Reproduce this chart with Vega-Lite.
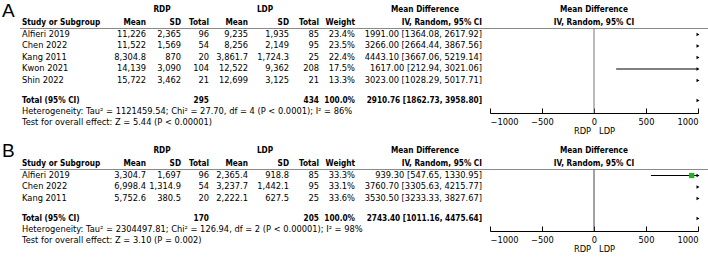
{
  "$schema": "https://vega.github.io/schema/vega-lite/v6.json",
  "padding": 0,
  "spacing": 0,
  "bounds": "flush",
  "config": {"view": {"stroke": null}, "font": "DejaVu Sans"},
  "datasets": {
    "cellsA": [
      {"row": 0, "col": -2, "text": "A", "part": "panel"},
      {"row": 0, "col": 2, "text": "RDP", "part": "header"},
      {"row": 0, "col": 6, "text": "LDP", "part": "header"},
      {"row": 0, "col": 10, "text": "Mean Difference", "part": "header"},
      {"row": 0, "text": "Mean Difference", "part": "plothead"},
      {"row": 1, "col": 0, "text": "Study or Subgroup", "part": "header"},
      {"row": 1, "col": 1, "text": "Mean", "part": "header"},
      {"row": 1, "col": 3, "text": "SD", "part": "header"},
      {"row": 1, "col": 4, "text": "Total", "part": "header"},
      {"row": 1, "col": 5, "text": "Mean", "part": "header"},
      {"row": 1, "col": 7, "text": "SD", "part": "header"},
      {"row": 1, "col": 8, "text": "Total", "part": "header"},
      {"row": 1, "col": 9, "text": "Weight", "part": "header"},
      {"row": 1, "col": 11, "text": "IV, Random, 95% CI", "part": "header"},
      {"row": 1, "text": "IV, Random, 95% CI", "part": "plothead"},
      {"row": 2, "col": 0, "text": "Alfieri 2019", "part": "study"},
      {"row": 2, "col": 1, "text": "11,226", "part": "study"},
      {"row": 2, "col": 3, "text": "2,365", "part": "study"},
      {"row": 2, "col": 4, "text": "96", "part": "study"},
      {"row": 2, "col": 5, "text": "9,235", "part": "study"},
      {"row": 2, "col": 7, "text": "1,935", "part": "study"},
      {"row": 2, "col": 8, "text": "85", "part": "study"},
      {"row": 2, "col": 9, "text": "23.4%", "part": "study"},
      {"row": 2, "col": 11, "text": "1991.00 [1364.08, 2617.92]", "part": "study"},
      {"row": 3, "col": 0, "text": "Chen 2022", "part": "study"},
      {"row": 3, "col": 1, "text": "11,522", "part": "study"},
      {"row": 3, "col": 3, "text": "1,569", "part": "study"},
      {"row": 3, "col": 4, "text": "54", "part": "study"},
      {"row": 3, "col": 5, "text": "8,256", "part": "study"},
      {"row": 3, "col": 7, "text": "2,149", "part": "study"},
      {"row": 3, "col": 8, "text": "95", "part": "study"},
      {"row": 3, "col": 9, "text": "23.5%", "part": "study"},
      {"row": 3, "col": 11, "text": "3266.00 [2664.44, 3867.56]", "part": "study"},
      {"row": 4, "col": 0, "text": "Kang 2011", "part": "study"},
      {"row": 4, "col": 1, "text": "8,304.8", "part": "study"},
      {"row": 4, "col": 3, "text": "870", "part": "study"},
      {"row": 4, "col": 4, "text": "20", "part": "study"},
      {"row": 4, "col": 5, "text": "3,861.7", "part": "study"},
      {"row": 4, "col": 7, "text": "1,724.3", "part": "study"},
      {"row": 4, "col": 8, "text": "25", "part": "study"},
      {"row": 4, "col": 9, "text": "22.4%", "part": "study"},
      {"row": 4, "col": 11, "text": "4443.10 [3667.06, 5219.14]", "part": "study"},
      {"row": 5, "col": 0, "text": "Kwon 2021", "part": "study"},
      {"row": 5, "col": 1, "text": "14,139", "part": "study"},
      {"row": 5, "col": 3, "text": "3,090", "part": "study"},
      {"row": 5, "col": 4, "text": "104", "part": "study"},
      {"row": 5, "col": 5, "text": "12,522", "part": "study"},
      {"row": 5, "col": 7, "text": "9,362", "part": "study"},
      {"row": 5, "col": 8, "text": "208", "part": "study"},
      {"row": 5, "col": 9, "text": "17.5%", "part": "study"},
      {"row": 5, "col": 11, "text": "1617.00 [212.94, 3021.06]", "part": "study"},
      {"row": 6, "col": 0, "text": "Shin 2022", "part": "study"},
      {"row": 6, "col": 1, "text": "15,722", "part": "study"},
      {"row": 6, "col": 3, "text": "3,462", "part": "study"},
      {"row": 6, "col": 4, "text": "21", "part": "study"},
      {"row": 6, "col": 5, "text": "12,699", "part": "study"},
      {"row": 6, "col": 7, "text": "3,125", "part": "study"},
      {"row": 6, "col": 8, "text": "21", "part": "study"},
      {"row": 6, "col": 9, "text": "13.3%", "part": "study"},
      {"row": 6, "col": 11, "text": "3023.00 [1028.29, 5017.71]", "part": "study"},
      {"row": 7, "col": 0, "text": "Total (95% CI)", "part": "total"},
      {"row": 7, "col": 4, "text": "295", "part": "total"},
      {"row": 7, "col": 8, "text": "434", "part": "total"},
      {"row": 7, "col": 9, "text": "100.0%", "part": "total"},
      {"row": 7, "col": 11, "text": "2910.76 [1862.73, 3958.80]", "part": "total"},
      {"row": 8, "col": 0, "text": "Heterogeneity: Tau² = 1121459.54; Chi² = 27.70, df = 4 (P < 0.0001); I² = 86%", "part": "note"},
      {"row": 9, "col": 0, "text": "Test for overall effect: Z = 5.44 (P < 0.00001)", "part": "note"}
    ],
    "forestA": [
      {"row": 2, "md": 1991.00, "lo": 1364.08, "hi": 2617.92, "weight": 23.4, "part": "study"},
      {"row": 3, "md": 3266.00, "lo": 2664.44, "hi": 3867.56, "weight": 23.5, "part": "study"},
      {"row": 4, "md": 4443.10, "lo": 3667.06, "hi": 5219.14, "weight": 22.4, "part": "study"},
      {"row": 5, "md": 1617.00, "lo": 212.94, "hi": 3021.06, "weight": 17.5, "part": "study"},
      {"row": 6, "md": 3023.00, "lo": 1028.29, "hi": 5017.71, "weight": 13.3, "part": "study"},
      {"row": 7, "md": 2910.76, "lo": 1862.73, "hi": 3958.80, "weight": 100.0, "part": "total"}
    ],
    "cellsB": [
      {"row": 0, "col": -2, "text": "B", "part": "panel"},
      {"row": 0, "col": 2, "text": "RDP", "part": "header"},
      {"row": 0, "col": 6, "text": "LDP", "part": "header"},
      {"row": 0, "col": 10, "text": "Mean Difference", "part": "header"},
      {"row": 0, "text": "Mean Difference", "part": "plothead"},
      {"row": 1, "col": 0, "text": "Study or Subgroup", "part": "header"},
      {"row": 1, "col": 1, "text": "Mean", "part": "header"},
      {"row": 1, "col": 3, "text": "SD", "part": "header"},
      {"row": 1, "col": 4, "text": "Total", "part": "header"},
      {"row": 1, "col": 5, "text": "Mean", "part": "header"},
      {"row": 1, "col": 7, "text": "SD", "part": "header"},
      {"row": 1, "col": 8, "text": "Total", "part": "header"},
      {"row": 1, "col": 9, "text": "Weight", "part": "header"},
      {"row": 1, "col": 11, "text": "IV, Random, 95% CI", "part": "header"},
      {"row": 1, "text": "IV, Random, 95% CI", "part": "plothead"},
      {"row": 2, "col": 0, "text": "Alfieri 2019", "part": "study"},
      {"row": 2, "col": 1, "text": "3,304.7", "part": "study"},
      {"row": 2, "col": 3, "text": "1,697", "part": "study"},
      {"row": 2, "col": 4, "text": "96", "part": "study"},
      {"row": 2, "col": 5, "text": "2,365.4", "part": "study"},
      {"row": 2, "col": 7, "text": "918.8", "part": "study"},
      {"row": 2, "col": 8, "text": "85", "part": "study"},
      {"row": 2, "col": 9, "text": "33.3%", "part": "study"},
      {"row": 2, "col": 11, "text": "939.30 [547.65, 1330.95]", "part": "study"},
      {"row": 3, "col": 0, "text": "Chen 2022", "part": "study"},
      {"row": 3, "col": 1, "text": "6,998.4", "part": "study"},
      {"row": 3, "col": 3, "text": "1,314.9", "part": "study"},
      {"row": 3, "col": 4, "text": "54", "part": "study"},
      {"row": 3, "col": 5, "text": "3,237.7", "part": "study"},
      {"row": 3, "col": 7, "text": "1,442.1", "part": "study"},
      {"row": 3, "col": 8, "text": "95", "part": "study"},
      {"row": 3, "col": 9, "text": "33.1%", "part": "study"},
      {"row": 3, "col": 11, "text": "3760.70 [3305.63, 4215.77]", "part": "study"},
      {"row": 4, "col": 0, "text": "Kang 2011", "part": "study"},
      {"row": 4, "col": 1, "text": "5,752.6", "part": "study"},
      {"row": 4, "col": 3, "text": "380.5", "part": "study"},
      {"row": 4, "col": 4, "text": "20", "part": "study"},
      {"row": 4, "col": 5, "text": "2,222.1", "part": "study"},
      {"row": 4, "col": 7, "text": "627.5", "part": "study"},
      {"row": 4, "col": 8, "text": "25", "part": "study"},
      {"row": 4, "col": 9, "text": "33.6%", "part": "study"},
      {"row": 4, "col": 11, "text": "3530.50 [3233.33, 3827.67]", "part": "study"},
      {"row": 5, "col": 0, "text": "Total (95% CI)", "part": "total"},
      {"row": 5, "col": 4, "text": "170", "part": "total"},
      {"row": 5, "col": 8, "text": "205", "part": "total"},
      {"row": 5, "col": 9, "text": "100.0%", "part": "total"},
      {"row": 5, "col": 11, "text": "2743.40 [1011.16, 4475.64]", "part": "total"},
      {"row": 6, "col": 0, "text": "Heterogeneity: Tau² = 2304497.81; Chi² = 126.94, df = 2 (P < 0.00001); I² = 98%", "part": "note"},
      {"row": 7, "col": 0, "text": "Test for overall effect: Z = 3.10 (P = 0.002)", "part": "note"}
    ],
    "forestB": [
      {"row": 2, "md": 939.30, "lo": 547.65, "hi": 1330.95, "weight": 33.3, "part": "study"},
      {"row": 3, "md": 3760.70, "lo": 3305.63, "hi": 4215.77, "weight": 33.1, "part": "study"},
      {"row": 4, "md": 3530.50, "lo": 3233.33, "hi": 3827.67, "weight": 33.6, "part": "study"},
      {"row": 5, "md": 2743.40, "lo": 1011.16, "hi": 4475.64, "weight": 100.0, "part": "total"}
    ]
  },
  "vconcat": [
    {
      "width": 708,
      "height": 130,
      "resolve": {"scale": {"x": "independent", "y": "independent"}, "axis": {"x": "independent", "y": "independent"}},
      "layer": [
        {"data": {"name": "cellsA"}, "transform": [{"filter": "datum.part == 'panel'"}],
         "mark": {"type": "text", "align": "left", "baseline": "middle", "fontSize": 19, "font": "Liberation Sans", "color": "#000"},
         "encoding": {"x": {"field": "col", "type": "quantitative", "axis": null, "scale": {"domain": [-2, -1, 0, 1, 2, 3, 4, 5, 6, 7, 8, 9, 10, 11, 12], "range": [2, 20, 22, 146, 162, 181, 209, 248, 265, 289, 319, 355, 425, 482, 708], "zero": false, "nice": false}},
                      "y": {"field": "row", "type": "quantitative", "axis": null, "scale": {"domain": [0, 1, 2, 3, 4, 5, 6, 7, 8, 9], "range": [10.5, 22.5, 34.5, 46, 57.5, 69, 80.5, 100.5, 111.5, 122.5], "zero": false, "nice": false}},
                      "text": {"field": "text"}}},
        {"data": {"name": "cellsA"}, "transform": [{"filter": "datum.col == 0 && (datum.part == 'header' || datum.part == 'total')"}],
         "mark": {"type": "text", "align": "left", "baseline": "middle", "fontSize": 8.2, "font": "DejaVu Sans Condensed", "fontWeight": "bold", "color": "#000"},
         "encoding": {"x": {"field": "col", "type": "quantitative", "axis": null, "scale": {"domain": [-2, -1, 0, 1, 2, 3, 4, 5, 6, 7, 8, 9, 10, 11, 12], "range": [2, 20, 22, 146, 162, 181, 209, 248, 265, 289, 319, 355, 425, 482, 708], "zero": false, "nice": false}},
                      "y": {"field": "row", "type": "quantitative", "axis": null, "scale": {"domain": [0, 1, 2, 3, 4, 5, 6, 7, 8, 9], "range": [10, 22.5, 34.5, 46, 57.5, 69, 80.5, 100.5, 111.5, 122.5], "zero": false, "nice": false}},
                      "text": {"field": "text"}}},
        {"data": {"name": "cellsA"}, "transform": [{"filter": "datum.part == 'header' && (datum.col == 2 || datum.col == 6 || datum.col == 10)"}],
         "mark": {"type": "text", "align": "center", "baseline": "middle", "fontSize": 8.2, "font": "DejaVu Sans Condensed", "fontWeight": "bold", "color": "#000"},
         "encoding": {"x": {"field": "col", "type": "quantitative", "axis": null, "scale": {"domain": [-2, -1, 0, 1, 2, 3, 4, 5, 6, 7, 8, 9, 10, 11, 12], "range": [2, 20, 22, 146, 162, 181, 209, 248, 265, 289, 319, 355, 425, 482, 708], "zero": false, "nice": false}},
                      "y": {"field": "row", "type": "quantitative", "axis": null, "scale": {"domain": [0, 1, 2, 3, 4, 5, 6, 7, 8, 9], "range": [10, 22.5, 34.5, 46, 57.5, 69, 80.5, 100.5, 111.5, 122.5], "zero": false, "nice": false}},
                      "text": {"field": "text"}}},
        {"data": {"name": "cellsA"}, "transform": [{"filter": "(datum.part == 'header' || datum.part == 'total') && datum.col != 0 && datum.col != 2 && datum.col != 6 && datum.col != 10"}],
         "mark": {"type": "text", "align": "right", "baseline": "middle", "fontSize": 8.2, "font": "DejaVu Sans Condensed", "fontWeight": "bold", "color": "#000"},
         "encoding": {"x": {"field": "col", "type": "quantitative", "axis": null, "scale": {"domain": [-2, -1, 0, 1, 2, 3, 4, 5, 6, 7, 8, 9, 10, 11, 12], "range": [2, 20, 22, 146, 162, 181, 209, 248, 265, 289, 319, 355, 425, 482, 708], "zero": false, "nice": false}},
                      "y": {"field": "row", "type": "quantitative", "axis": null, "scale": {"domain": [0, 1, 2, 3, 4, 5, 6, 7, 8, 9], "range": [10, 22.5, 34.5, 46, 57.5, 69, 80.5, 100.5, 111.5, 122.5], "zero": false, "nice": false}},
                      "text": {"field": "text"}}},
        {"data": {"name": "cellsA"}, "transform": [{"filter": "datum.col == 0 && (datum.part == 'study' || datum.part == 'note')"}],
         "mark": {"type": "text", "align": "left", "baseline": "middle", "fontSize": 8.3, "color": "#000"},
         "encoding": {"x": {"field": "col", "type": "quantitative", "axis": null, "scale": {"domain": [-2, -1, 0, 1, 2, 3, 4, 5, 6, 7, 8, 9, 10, 11, 12], "range": [2, 20, 22, 146, 162, 181, 209, 248, 265, 289, 319, 355, 425, 482, 708], "zero": false, "nice": false}},
                      "y": {"field": "row", "type": "quantitative", "axis": null, "scale": {"domain": [0, 1, 2, 3, 4, 5, 6, 7, 8, 9], "range": [10, 22.5, 34.5, 46, 57.5, 69, 80.5, 100.5, 111.5, 122.5], "zero": false, "nice": false}},
                      "text": {"field": "text"}}},
        {"data": {"name": "cellsA"}, "transform": [{"filter": "datum.col != 0 && datum.part == 'study'"}],
         "mark": {"type": "text", "align": "right", "baseline": "middle", "fontSize": 8.3, "color": "#000"},
         "encoding": {"x": {"field": "col", "type": "quantitative", "axis": null, "scale": {"domain": [-2, -1, 0, 1, 2, 3, 4, 5, 6, 7, 8, 9, 10, 11, 12], "range": [2, 20, 22, 146, 162, 181, 209, 248, 265, 289, 319, 355, 425, 482, 708], "zero": false, "nice": false}},
                      "y": {"field": "row", "type": "quantitative", "axis": null, "scale": {"domain": [0, 1, 2, 3, 4, 5, 6, 7, 8, 9], "range": [10, 22.5, 34.5, 46, 57.5, 69, 80.5, 100.5, 111.5, 122.5], "zero": false, "nice": false}},
                      "text": {"field": "text"}}},
        {"data": {"name": "cellsA"}, "transform": [{"filter": "datum.row == 1 && datum.col == 0"}],
         "mark": {"type": "rule", "color": "#8a8a8a", "strokeWidth": 1},
         "encoding": {"x": {"datum": -1, "type": "quantitative", "axis": null, "scale": {"domain": [-2, -1, 0, 1, 2, 3, 4, 5, 6, 7, 8, 9, 10, 11, 12], "range": [2, 20, 22, 146, 162, 181, 209, 248, 265, 289, 319, 355, 425, 482, 708], "zero": false, "nice": false}},
                      "x2": {"datum": 12},
                      "y": {"datum": 1.5, "type": "quantitative", "axis": null, "scale": {"domain": [0, 1, 2, 3, 4, 5, 6, 7, 8, 9], "range": [10, 22.5, 34.5, 46, 57.5, 69, 80.5, 100.5, 111.5, 122.5], "zero": false, "nice": false}}}},
        {"data": {"name": "forestA"}, "transform": [{"filter": "datum.part == 'total'"}],
         "mark": {"type": "rule", "color": "#777", "strokeWidth": 1},
         "encoding": {"x": {"datum": 0, "type": "quantitative", "axis": null, "scale": {"domain": [-1000, 1000], "range": [490, 698], "clamp": true, "nice": false, "zero": false}},
                      "y": {"datum": 1.5, "type": "quantitative", "axis": null, "scale": {"domain": [0, 1, 2, 3, 4, 5, 6, 7, 8, 9], "range": [10, 22.5, 34.5, 46, 57.5, 69, 80.5, 100.5, 111.5, 122.5], "zero": false, "nice": false}},
                      "y2": {"datum": 8.14}}},
        {"data": {"name": "forestA"}, "transform": [{"filter": "datum.part == 'study'"}],
         "mark": {"type": "rule", "color": "#000", "strokeWidth": 1},
         "encoding": {"x": {"field": "lo", "type": "quantitative", "scale": {"domain": [-1000, 1000], "range": [490, 698], "clamp": true, "nice": false, "zero": false},
                            "axis": {"orient": "bottom", "values": [-1000, -500, 0, 500, 1000], "format": "d", "title": "RDP\u00a0\u00a0\u00a0LDP", "offset": -17, "tickSize": -5, "labelFontSize": 8.3, "labelColor": "#000", "domainColor": "#000", "tickColor": "#000", "titleFontSize": 8.3, "titleFontWeight": "normal", "titleColor": "#000", "titlePadding": 1, "labelPadding": 9, "grid": false, "labelFlush": true, "labelOverlap": false}},
                      "x2": {"field": "hi"},
                      "y": {"field": "row", "type": "quantitative", "axis": null, "scale": {"domain": [0, 1, 2, 3, 4, 5, 6, 7, 8, 9], "range": [10, 22.5, 34.5, 46, 57.5, 69, 80.5, 100.5, 111.5, 122.5], "zero": false, "nice": false}}}},
        {"data": {"name": "forestA"}, "transform": [{"filter": "datum.part == 'study' && datum.md >= -1000 && datum.md <= 1000"}],
         "mark": {"type": "point", "shape": "square", "filled": true, "color": "#1db31d", "size": 28, "opacity": 1},
         "encoding": {"x": {"field": "md", "type": "quantitative", "axis": null, "scale": {"domain": [-1000, 1000], "range": [490, 698], "clamp": true, "nice": false, "zero": false}},
                      "y": {"field": "row", "type": "quantitative", "axis": null, "scale": {"domain": [0, 1, 2, 3, 4, 5, 6, 7, 8, 9], "range": [10, 22.5, 34.5, 46, 57.5, 69, 80.5, 100.5, 111.5, 122.5], "zero": false, "nice": false}}}},
        {"data": {"name": "forestA"}, "transform": [{"filter": "datum.hi > 1000"}],
         "mark": {"type": "point", "shape": "triangle-right", "filled": true, "color": "#000", "size": 12, "opacity": 1},
         "encoding": {"x": {"field": "hi", "type": "quantitative", "axis": null, "scale": {"domain": [-1000, 1000], "range": [490, 698], "clamp": true, "nice": false, "zero": false}},
                      "y": {"field": "row", "type": "quantitative", "axis": null, "scale": {"domain": [0, 1, 2, 3, 4, 5, 6, 7, 8, 9], "range": [10, 22.5, 34.5, 46, 57.5, 69, 80.5, 100.5, 111.5, 122.5], "zero": false, "nice": false}}}},
        {"data": {"name": "cellsA"}, "transform": [{"filter": "datum.part == 'plothead'"}],
         "mark": {"type": "text", "align": "center", "baseline": "middle", "fontSize": 8.2, "font": "DejaVu Sans Condensed", "fontWeight": "bold", "color": "#000"},
         "encoding": {"x": {"datum": 0, "type": "quantitative", "axis": null, "scale": {"domain": [-1000, 1000], "range": [490, 698], "clamp": true, "nice": false, "zero": false}},
                      "y": {"field": "row", "type": "quantitative", "axis": null, "scale": {"domain": [0, 1, 2, 3, 4, 5, 6, 7, 8, 9], "range": [10, 22.5, 34.5, 46, 57.5, 69, 80.5, 100.5, 111.5, 122.5], "zero": false, "nice": false}},
                      "text": {"field": "text"}}}
      ]
    },
    {
      "width": 708,
      "height": 130,
      "resolve": {"scale": {"x": "independent", "y": "independent"}, "axis": {"x": "independent", "y": "independent"}},
      "layer": [
        {"data": {"name": "cellsB"}, "transform": [{"filter": "datum.part == 'panel'"}],
         "mark": {"type": "text", "align": "left", "baseline": "middle", "fontSize": 19, "font": "Liberation Sans", "color": "#000"},
         "encoding": {"x": {"field": "col", "type": "quantitative", "axis": null, "scale": {"domain": [-2, -1, 0, 1, 2, 3, 4, 5, 6, 7, 8, 9, 10, 11, 12], "range": [2, 20, 22, 146, 162, 181, 209, 248, 265, 289, 319, 355, 425, 482, 708], "zero": false, "nice": false}},
                      "y": {"field": "row", "type": "quantitative", "axis": null, "scale": {"domain": [0, 1, 2, 3, 4, 5, 6, 7], "range": [21, 33.5, 45.5, 57, 68.5, 88.5, 99.5, 110.5], "zero": false, "nice": false}},
                      "text": {"field": "text"}}},
        {"data": {"name": "cellsB"}, "transform": [{"filter": "datum.col == 0 && (datum.part == 'header' || datum.part == 'total')"}],
         "mark": {"type": "text", "align": "left", "baseline": "middle", "fontSize": 8.2, "font": "DejaVu Sans Condensed", "fontWeight": "bold", "color": "#000"},
         "encoding": {"x": {"field": "col", "type": "quantitative", "axis": null, "scale": {"domain": [-2, -1, 0, 1, 2, 3, 4, 5, 6, 7, 8, 9, 10, 11, 12], "range": [2, 20, 22, 146, 162, 181, 209, 248, 265, 289, 319, 355, 425, 482, 708], "zero": false, "nice": false}},
                      "y": {"field": "row", "type": "quantitative", "axis": null, "scale": {"domain": [0, 1, 2, 3, 4, 5, 6, 7], "range": [21, 33.5, 45.5, 57, 68.5, 88.5, 99.5, 110.5], "zero": false, "nice": false}},
                      "text": {"field": "text"}}},
        {"data": {"name": "cellsB"}, "transform": [{"filter": "datum.part == 'header' && (datum.col == 2 || datum.col == 6 || datum.col == 10)"}],
         "mark": {"type": "text", "align": "center", "baseline": "middle", "fontSize": 8.2, "font": "DejaVu Sans Condensed", "fontWeight": "bold", "color": "#000"},
         "encoding": {"x": {"field": "col", "type": "quantitative", "axis": null, "scale": {"domain": [-2, -1, 0, 1, 2, 3, 4, 5, 6, 7, 8, 9, 10, 11, 12], "range": [2, 20, 22, 146, 162, 181, 209, 248, 265, 289, 319, 355, 425, 482, 708], "zero": false, "nice": false}},
                      "y": {"field": "row", "type": "quantitative", "axis": null, "scale": {"domain": [0, 1, 2, 3, 4, 5, 6, 7], "range": [21, 33.5, 45.5, 57, 68.5, 88.5, 99.5, 110.5], "zero": false, "nice": false}},
                      "text": {"field": "text"}}},
        {"data": {"name": "cellsB"}, "transform": [{"filter": "(datum.part == 'header' || datum.part == 'total') && datum.col != 0 && datum.col != 2 && datum.col != 6 && datum.col != 10"}],
         "mark": {"type": "text", "align": "right", "baseline": "middle", "fontSize": 8.2, "font": "DejaVu Sans Condensed", "fontWeight": "bold", "color": "#000"},
         "encoding": {"x": {"field": "col", "type": "quantitative", "axis": null, "scale": {"domain": [-2, -1, 0, 1, 2, 3, 4, 5, 6, 7, 8, 9, 10, 11, 12], "range": [2, 20, 22, 146, 162, 181, 209, 248, 265, 289, 319, 355, 425, 482, 708], "zero": false, "nice": false}},
                      "y": {"field": "row", "type": "quantitative", "axis": null, "scale": {"domain": [0, 1, 2, 3, 4, 5, 6, 7], "range": [21, 33.5, 45.5, 57, 68.5, 88.5, 99.5, 110.5], "zero": false, "nice": false}},
                      "text": {"field": "text"}}},
        {"data": {"name": "cellsB"}, "transform": [{"filter": "datum.col == 0 && (datum.part == 'study' || datum.part == 'note')"}],
         "mark": {"type": "text", "align": "left", "baseline": "middle", "fontSize": 8.3, "color": "#000"},
         "encoding": {"x": {"field": "col", "type": "quantitative", "axis": null, "scale": {"domain": [-2, -1, 0, 1, 2, 3, 4, 5, 6, 7, 8, 9, 10, 11, 12], "range": [2, 20, 22, 146, 162, 181, 209, 248, 265, 289, 319, 355, 425, 482, 708], "zero": false, "nice": false}},
                      "y": {"field": "row", "type": "quantitative", "axis": null, "scale": {"domain": [0, 1, 2, 3, 4, 5, 6, 7], "range": [21, 33.5, 45.5, 57, 68.5, 88.5, 99.5, 110.5], "zero": false, "nice": false}},
                      "text": {"field": "text"}}},
        {"data": {"name": "cellsB"}, "transform": [{"filter": "datum.col != 0 && datum.part == 'study'"}],
         "mark": {"type": "text", "align": "right", "baseline": "middle", "fontSize": 8.3, "color": "#000"},
         "encoding": {"x": {"field": "col", "type": "quantitative", "axis": null, "scale": {"domain": [-2, -1, 0, 1, 2, 3, 4, 5, 6, 7, 8, 9, 10, 11, 12], "range": [2, 20, 22, 146, 162, 181, 209, 248, 265, 289, 319, 355, 425, 482, 708], "zero": false, "nice": false}},
                      "y": {"field": "row", "type": "quantitative", "axis": null, "scale": {"domain": [0, 1, 2, 3, 4, 5, 6, 7], "range": [21, 33.5, 45.5, 57, 68.5, 88.5, 99.5, 110.5], "zero": false, "nice": false}},
                      "text": {"field": "text"}}},
        {"data": {"name": "cellsB"}, "transform": [{"filter": "datum.row == 1 && datum.col == 0"}],
         "mark": {"type": "rule", "color": "#8a8a8a", "strokeWidth": 1},
         "encoding": {"x": {"datum": -1, "type": "quantitative", "axis": null, "scale": {"domain": [-2, -1, 0, 1, 2, 3, 4, 5, 6, 7, 8, 9, 10, 11, 12], "range": [2, 20, 22, 146, 162, 181, 209, 248, 265, 289, 319, 355, 425, 482, 708], "zero": false, "nice": false}},
                      "x2": {"datum": 12},
                      "y": {"datum": 1.5, "type": "quantitative", "axis": null, "scale": {"domain": [0, 1, 2, 3, 4, 5, 6, 7], "range": [21, 33.5, 45.5, 57, 68.5, 88.5, 99.5, 110.5], "zero": false, "nice": false}}}},
        {"data": {"name": "forestB"}, "transform": [{"filter": "datum.part == 'total'"}],
         "mark": {"type": "rule", "color": "#444", "strokeWidth": 1},
         "encoding": {"x": {"datum": 0, "type": "quantitative", "axis": null, "scale": {"domain": [-1000, 1000], "range": [490, 698], "clamp": true, "nice": false, "zero": false}},
                      "y": {"datum": 1.5, "type": "quantitative", "axis": null, "scale": {"domain": [0, 1, 2, 3, 4, 5, 6, 7], "range": [21, 33.5, 45.5, 57, 68.5, 88.5, 99.5, 110.5], "zero": false, "nice": false}},
                      "y2": {"datum": 6.14}}},
        {"data": {"name": "forestB"}, "transform": [{"filter": "datum.part == 'study'"}],
         "mark": {"type": "rule", "color": "#000", "strokeWidth": 1},
         "encoding": {"x": {"field": "lo", "type": "quantitative", "scale": {"domain": [-1000, 1000], "range": [490, 698], "clamp": true, "nice": false, "zero": false},
                            "axis": {"orient": "bottom", "values": [-1000, -500, 0, 500, 1000], "format": "d", "title": "RDP\u00a0\u00a0\u00a0LDP", "offset": -29, "tickSize": -5, "labelFontSize": 8.3, "labelColor": "#000", "domainColor": "#000", "tickColor": "#000", "titleFontSize": 8.3, "titleFontWeight": "normal", "titleColor": "#000", "titlePadding": 1, "labelPadding": 9, "grid": false, "labelFlush": true, "labelOverlap": false}},
                      "x2": {"field": "hi"},
                      "y": {"field": "row", "type": "quantitative", "axis": null, "scale": {"domain": [0, 1, 2, 3, 4, 5, 6, 7], "range": [21, 33.5, 45.5, 57, 68.5, 88.5, 99.5, 110.5], "zero": false, "nice": false}}}},
        {"data": {"name": "forestB"}, "transform": [{"filter": "datum.part == 'study' && datum.md >= -1000 && datum.md <= 1000"}],
         "mark": {"type": "point", "shape": "square", "filled": true, "color": "#1db31d", "size": 28, "opacity": 1},
         "encoding": {"x": {"field": "md", "type": "quantitative", "axis": null, "scale": {"domain": [-1000, 1000], "range": [490, 698], "clamp": true, "nice": false, "zero": false}},
                      "y": {"field": "row", "type": "quantitative", "axis": null, "scale": {"domain": [0, 1, 2, 3, 4, 5, 6, 7], "range": [21, 33.5, 45.5, 57, 68.5, 88.5, 99.5, 110.5], "zero": false, "nice": false}}}},
        {"data": {"name": "forestB"}, "transform": [{"filter": "datum.hi > 1000"}],
         "mark": {"type": "point", "shape": "triangle-right", "filled": true, "color": "#000", "size": 12, "opacity": 1},
         "encoding": {"x": {"field": "hi", "type": "quantitative", "axis": null, "scale": {"domain": [-1000, 1000], "range": [490, 698], "clamp": true, "nice": false, "zero": false}},
                      "y": {"field": "row", "type": "quantitative", "axis": null, "scale": {"domain": [0, 1, 2, 3, 4, 5, 6, 7], "range": [21, 33.5, 45.5, 57, 68.5, 88.5, 99.5, 110.5], "zero": false, "nice": false}}}},
        {"data": {"name": "cellsB"}, "transform": [{"filter": "datum.part == 'plothead'"}],
         "mark": {"type": "text", "align": "center", "baseline": "middle", "fontSize": 8.2, "font": "DejaVu Sans Condensed", "fontWeight": "bold", "color": "#000"},
         "encoding": {"x": {"datum": 0, "type": "quantitative", "axis": null, "scale": {"domain": [-1000, 1000], "range": [490, 698], "clamp": true, "nice": false, "zero": false}},
                      "y": {"field": "row", "type": "quantitative", "axis": null, "scale": {"domain": [0, 1, 2, 3, 4, 5, 6, 7], "range": [21, 33.5, 45.5, 57, 68.5, 88.5, 99.5, 110.5], "zero": false, "nice": false}},
                      "text": {"field": "text"}}}
      ]
    }
  ]
}
